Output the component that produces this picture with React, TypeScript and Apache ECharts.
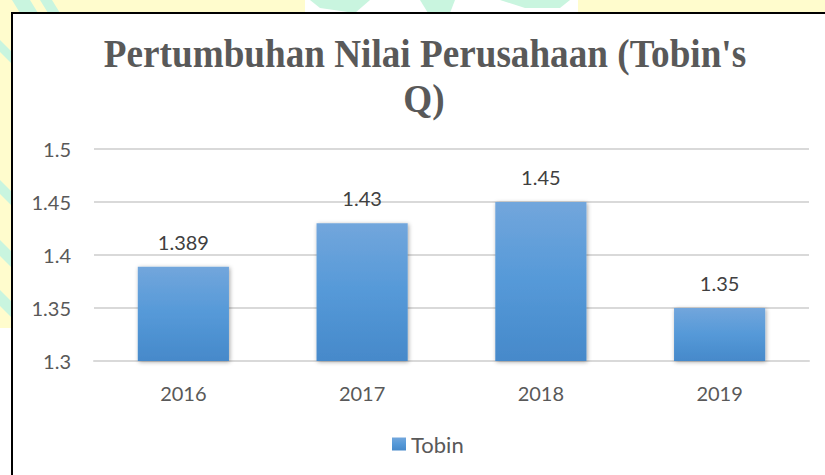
import React, { useEffect, useRef } from "react";
import * as echarts from "echarts";

const categories = ["2016", "2017", "2018", "2019"];
const tobinValues = [1.389, 1.43, 1.45, 1.35];
const seriesName = "Tobin";
const titleLines = ["Pertumbuhan Nilai Perusahaan (Tobin's", "Q)"];
const yMin = 1.3;
const yMax = 1.5;
const yStep = 0.05;

const YELLOW = "#fffccd";
const MINT = "#c9f5df";

export default function App() {
  const ref = useRef<HTMLDivElement>(null);
  useEffect(() => {
    if (!ref.current) return;
    const chart = echarts.init(ref.current, undefined, { renderer: "svg" });
    const fontSans = "Lato, 'Open Sans', sans-serif";
    const option: any = {
      animation: false,
      backgroundColor: "#ffffff",
      graphic: [
        // watermark-like page background
        { type: "rect", shape: { x: 0, y: 0, width: 305, height: 13 }, style: { fill: YELLOW }, silent: true, z: -10 },
        { type: "rect", shape: { x: 578, y: 0, width: 247, height: 13 }, style: { fill: YELLOW }, silent: true, z: -10 },
        { type: "rect", shape: { x: 0, y: 0, width: 12, height: 328 }, style: { fill: YELLOW }, silent: true, z: -10 },
        { type: "polygon", shape: { points: [[12, 0], [30, 0], [38, 13], [20, 13]] }, style: { fill: MINT }, silent: true, z: -9 },
        { type: "polygon", shape: { points: [[40, 0], [52, 0], [60, 13], [48, 13]] }, style: { fill: MINT }, silent: true, z: -9 },
        { type: "polygon", shape: { points: [[310, 0], [370, 0], [355, 13], [320, 8]] }, style: { fill: MINT }, silent: true, z: -9 },
        { type: "polygon", shape: { points: [[420, 0], [455, 0], [450, 13], [428, 13]] }, style: { fill: MINT }, silent: true, z: -9 },
        { type: "polygon", shape: { points: [[500, 0], [570, 0], [560, 8], [525, 8]] }, style: { fill: MINT }, silent: true, z: -9 },
        { type: "polygon", shape: { points: [[0, 40], [12, 52], [12, 64], [0, 52]] }, style: { fill: MINT }, silent: true, z: -9 },
        { type: "polygon", shape: { points: [[0, 180], [12, 192], [12, 206], [0, 194]] }, style: { fill: MINT }, silent: true, z: -9 },
        { type: "polygon", shape: { points: [[0, 240], [12, 252], [12, 268], [0, 256]] }, style: { fill: MINT }, silent: true, z: -9 },
        { type: "polygon", shape: { points: [[0, 290], [12, 302], [12, 318], [0, 306]] }, style: { fill: MINT }, silent: true, z: -9 },
        // chart frame
        {
          type: "rect",
          shape: { x: 12, y: 13, width: 830, height: 480 },
          style: { fill: "#ffffff", stroke: "#000000", lineWidth: 2 },
          silent: true,
          z: -5,
        },
        // title (condensed serif)
        {
          type: "text",
          x: 425,
          y: 54,
          scaleX: 0.93,
          style: {
            text: titleLines[0],
            fontFamily: "'Liberation Serif', 'Times New Roman', serif",
            fontWeight: "bold",
            fontSize: 40,
            fill: "#595959",
            align: "center",
            verticalAlign: "middle",
          },
          z: 10,
        },
        {
          type: "text",
          x: 424,
          y: 99,
          scaleX: 0.93,
          style: {
            text: titleLines[1],
            fontFamily: "'Liberation Serif', 'Times New Roman', serif",
            fontWeight: "bold",
            fontSize: 40,
            fill: "#595959",
            align: "center",
            verticalAlign: "middle",
          },
          z: 10,
        },
      ],
      grid: { left: 94, right: 16, top: 149, bottom: 114, containLabel: false },
      legend: {
        left: 392,
        top: 433,
        padding: 0,
        icon: "rect",
        itemWidth: 14,
        itemHeight: 13,
        itemGap: 10,
        textStyle: { fontFamily: fontSans, fontSize: 22, color: "#595959" },
        data: [seriesName],
      },
      xAxis: {
        type: "category",
        data: categories,
        axisLine: { show: true, lineStyle: { color: "#d9d9d9", width: 2 } },
        axisTick: { show: false },
        axisLabel: { fontFamily: fontSans, fontSize: 20, color: "#595959", margin: 22 },
      },
      yAxis: {
        type: "value",
        min: yMin,
        max: yMax,
        interval: yStep,
        axisLine: { show: false },
        axisTick: { show: false },
        splitLine: { lineStyle: { color: "#d9d9d9", width: 2 } },
        axisLabel: {
          fontFamily: fontSans,
          fontSize: 20,
          color: "#595959",
          margin: 23,
          formatter: (v: number) => String(+v.toFixed(3)),
        },
      },
      series: [
        {
          name: seriesName,
          type: "bar",
          data: tobinValues,
          barWidth: "51%",
          itemStyle: {
            color: new echarts.graphic.LinearGradient(0, 0, 0, 1, [
              { offset: 0, color: "#72a6dc" },
              { offset: 0.5, color: "#5599d8" },
              { offset: 1, color: "#4689ca" },
            ]),
            shadowBlur: 4,
            shadowColor: "rgba(0,0,0,0.35)",
            shadowOffsetX: 1,
            shadowOffsetY: 1,
          },
          label: {
            show: true,
            position: "top",
            distance: 15,
            fontFamily: fontSans,
            fontSize: 20,
            color: "#404040",
            formatter: (p: any) => String(p.value),
          },
        },
      ],
    };
    chart.setOption(option);
    return () => chart.dispose();
  }, []);
  return (
    <div
      ref={ref}
      style={{ position: "fixed", left: 0, top: 0, width: 825, height: 475 }}
    />
  );
}
